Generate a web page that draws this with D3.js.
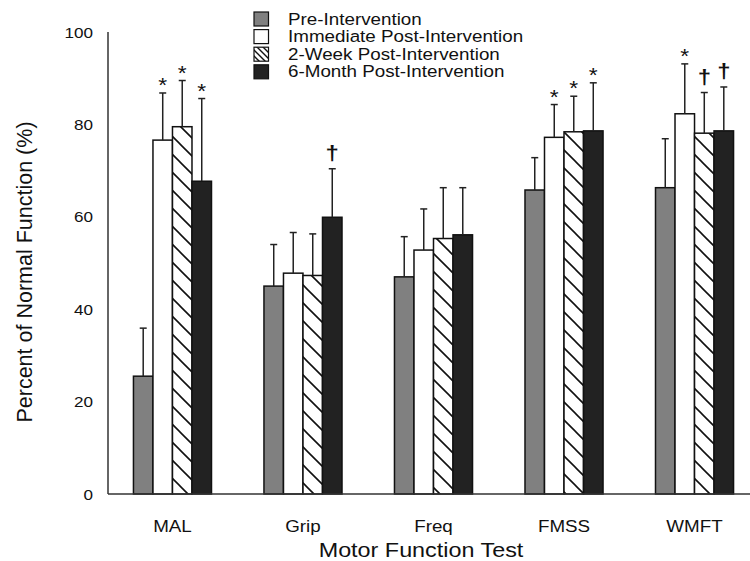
<!DOCTYPE html>
<html>
<head>
<meta charset="UTF-8">
<script src="https://d3js.org/d3.v7.min.js"></script>
<style>
  body { margin: 0; background: #fff; }
  svg { display: block; font-family: "Liberation Sans", Arial, sans-serif; }
</style>
</head>
<body>
<svg id="chart" width="750" height="561"></svg>
<script>
const tests = ["MAL", "Grip", "Freq", "FMSS", "WMFT"];
const phases = ["Pre-Intervention", "Immediate Post-Intervention", "2-Week Post-Intervention", "6-Month Post-Intervention"];

// mean percent of normal function, per phase
const preValues = [25.5, 45.0, 47.0, 65.8, 66.3];
const immediateValues = [76.6, 47.8, 52.8, 77.2, 82.3];
const week2Values = [79.5, 47.3, 55.3, 78.4, 78.1];
const month6Values = [67.7, 59.9, 56.1, 78.6, 78.6];

// upper error bar length
const preErr = [10.4, 9.0, 8.7, 7.0, 10.6];
const immediateErr = [10.2, 8.8, 8.9, 7.1, 10.8];
const week2Err = [10.0, 9.0, 11.0, 7.7, 8.8];
const month6Err = [17.9, 10.5, 10.2, 10.4, 9.5];

// significance markers
const preMarks = ["", "", "", "", ""];
const immediateMarks = ["*", "", "", "*", "*"];
const week2Marks = ["*", "", "", "*", "†"];
const month6Marks = ["*", "†", "", "*", "†"];

const yTicks = [0, 20, 40, 60, 80, 100];

const values = [preValues, immediateValues, week2Values, month6Values];
const errs = [preErr, immediateErr, week2Err, month6Err];
const marks = [preMarks, immediateMarks, week2Marks, month6Marks];
const fills = ["#808080", "#ffffff", "url(#hatch)", "#222222"];
const legendFills = ["#808080", "#ffffff", "url(#hatchSmall)", "#222222"];

const rows = [];
tests.forEach((t, i) => {
  phases.forEach((p, j) => {
    rows.push({ test: t, phase: p, j, value: values[j][i], err: errs[j][i], mark: marks[j][i] });
  });
});

const svg = d3.select("#chart");
const stretch = 1.14;

const defs = svg.append("defs");
const hatch = defs.append("pattern").attr("id", "hatch")
  .attr("patternUnits", "userSpaceOnUse").attr("width", 18).attr("height", 18);
hatch.append("rect").attr("width", 18).attr("height", 18).attr("fill", "#fff");
hatch.append("path").attr("d", "M0,0L18,18M-3,15L3,21M15,-3L21,3")
  .attr("stroke", "#111").attr("stroke-width", 1.6);
const hatchSmall = defs.append("pattern").attr("id", "hatchSmall")
  .attr("patternUnits", "userSpaceOnUse").attr("width", 6).attr("height", 6);
hatchSmall.append("rect").attr("width", 6).attr("height", 6).attr("fill", "#fff");
hatchSmall.append("path").attr("d", "M0,0L6,6M-2,4L2,8M4,-2L8,2")
  .attr("stroke", "#111").attr("stroke-width", 1.4);

const x0 = d3.scaleBand().domain(tests).range([108, 759]).paddingInner(0.402).paddingOuter(0.195);
const x1 = d3.scaleBand().domain(phases).range([0, x0.bandwidth()]);
const y = d3.scaleLinear().domain([0, 100]).range([494, 32]);

function stretchedText(g, x, yy, txt, size, anchor) {
  return g.append("text")
    .attr("transform", `translate(${x},${yy}) scale(${stretch},1)`)
    .attr("text-anchor", anchor || "middle")
    .style("font-size", size + "px")
    .attr("fill", "#111")
    .text(txt);
}

// y tick labels
const yAxisG = svg.append("g");
yTicks.forEach(t => {
  stretchedText(yAxisG, 93, y(t) + 5.5, t, 15, "end");
});

// bars
const bars = svg.append("g");
bars.selectAll("rect").data(rows).join("rect")
  .attr("x", d => x0(d.test) + x1(d.phase))
  .attr("y", d => y(d.value))
  .attr("width", x1.bandwidth())
  .attr("height", d => y(0) - y(d.value))
  .attr("fill", d => fills[d.j])
  .attr("stroke", "#111")
  .attr("stroke-width", 1.5);

// error bars (upper only)
const errG = svg.append("g").attr("stroke", "#222").attr("stroke-width", 1.5);
rows.forEach(d => {
  const cx = x0(d.test) + x1(d.phase) + x1.bandwidth() / 2;
  const top = y(d.value + d.err);
  errG.append("line").attr("x1", cx).attr("x2", cx).attr("y1", y(d.value)).attr("y2", top);
  errG.append("line").attr("x1", cx - 3.5).attr("x2", cx + 3.5).attr("y1", top).attr("y2", top);
});

// significance marks
const markG = svg.append("g");
rows.filter(d => d.mark).forEach(d => {
  const cx = x0(d.test) + x1(d.phase) + x1.bandwidth() / 2;
  const top = y(d.value + d.err);
  if (d.mark === "*") stretchedText(markG, cx, top - 1, "*", 20);
  else stretchedText(markG, cx, top - 9, "†", 21).style("font-weight", "bold");
});

// axes lines
svg.append("line").attr("x1", 108).attr("x2", 108).attr("y1", y(100)).attr("y2", y(0))
  .attr("stroke", "#333").attr("stroke-width", 1.5);
svg.append("line").attr("x1", 108).attr("x2", 750).attr("y1", y(0)).attr("y2", y(0))
  .attr("stroke", "#333").attr("stroke-width", 1.5);

// category labels
const xLab = svg.append("g");
tests.forEach(t => stretchedText(xLab, x0(t) + x0.bandwidth() / 2, 532, t, 16.5));

// axis titles
stretchedText(svg, 421, 557, "Motor Function Test", 20.5);
svg.append("text")
  .attr("transform", "translate(32,272) rotate(-90)")
  .attr("text-anchor", "middle")
  .style("font-size", "21.5px")
  .attr("fill", "#111")
  .text("Percent of Normal Function (%)");

// legend
const legend = svg.append("g");
phases.forEach((p, j) => {
  const ly = 12 + j * 17.6;
  legend.append("rect").attr("x", 254).attr("y", ly).attr("width", 14.5).attr("height", 14)
    .attr("fill", legendFills[j]).attr("stroke", "#111").attr("stroke-width", 1.2);
  stretchedText(legend, 288, ly + 12.5, p, 16.5, "start");
});
</script>
</body>
</html>
